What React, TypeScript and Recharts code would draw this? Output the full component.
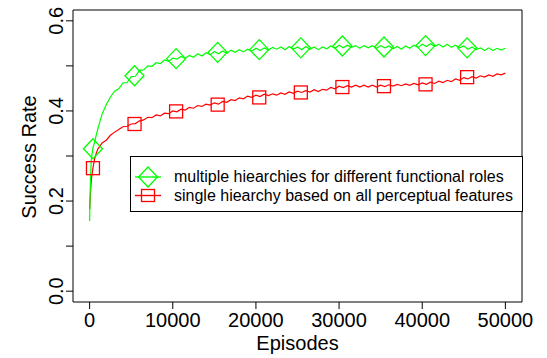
import { ComposedChart, Line, Scatter, XAxis, YAxis, ReferenceArea, Label } from 'recharts';

const episodes = [
  0, 100, 200, 400, 600, 800, 1000, 1200, 1500, 2000, 2500,
  3000, 3500, 4000, 4500, 5000, 5500, 6000, 6500, 7000, 7500,
  8000, 8500, 9000, 9500, 10000, 10500, 11000, 11500, 12000, 12500,
  13000, 13500, 14000, 14500, 15000, 15500, 16000, 16500, 17000, 17500,
  18000, 18500, 19000, 19500, 20000, 20500, 21000, 21500, 22000, 22500,
  23000, 23500, 24000, 24500, 25000, 25500, 26000, 26500, 27000, 27500,
  28000, 28500, 29000, 29500, 30000, 30500, 31000, 31500, 32000, 32500,
  33000, 33500, 34000, 34500, 35000, 35500, 36000, 36500, 37000, 37500,
  38000, 38500, 39000, 39500, 40000, 40500, 41000, 41500, 42000, 42500,
  43000, 43500, 44000, 44500, 45000, 45500, 46000, 46500, 47000, 47500,
  48000, 48500, 49000, 49500, 50000,
];

// multiple hierarchies (green)
const multiRate = [
  0.156, 0.248, 0.292, 0.318, 0.331, 0.347, 0.361, 0.374, 0.393, 0.414, 0.431,
  0.444, 0.449, 0.462, 0.463, 0.476, 0.477, 0.49, 0.491, 0.5, 0.499,
  0.507, 0.505, 0.513, 0.51, 0.517, 0.515, 0.521, 0.517, 0.523, 0.519,
  0.527, 0.522, 0.529, 0.525, 0.532, 0.527, 0.533, 0.528, 0.535, 0.53,
  0.536, 0.531, 0.537, 0.533, 0.539, 0.534, 0.54, 0.535, 0.541, 0.537,
  0.542, 0.536, 0.543, 0.537, 0.542, 0.536, 0.543, 0.537, 0.542, 0.536,
  0.542, 0.538, 0.544, 0.539, 0.546, 0.54, 0.546, 0.541, 0.545, 0.539,
  0.545, 0.54, 0.545, 0.539, 0.545, 0.54, 0.544, 0.538, 0.543, 0.537,
  0.544, 0.539, 0.546, 0.541, 0.548, 0.543, 0.549, 0.543, 0.548, 0.542,
  0.548, 0.541, 0.546, 0.54, 0.544, 0.537, 0.542, 0.536, 0.54, 0.534,
  0.54, 0.534, 0.539, 0.535, 0.539,
];

// single hierarchy (red)
const singleRate = [
  0.182, 0.218, 0.247, 0.273, 0.294, 0.306, 0.316, 0.321, 0.329, 0.335, 0.346,
  0.353, 0.359, 0.365, 0.366, 0.371, 0.372, 0.378, 0.38, 0.386, 0.385,
  0.391, 0.389, 0.395, 0.394, 0.4, 0.398, 0.404, 0.402, 0.408, 0.406,
  0.412, 0.41, 0.415, 0.413, 0.418, 0.415, 0.421, 0.419, 0.425, 0.423,
  0.429, 0.427, 0.433, 0.43, 0.435, 0.432, 0.437, 0.434, 0.438, 0.435,
  0.44, 0.437, 0.442, 0.439, 0.444, 0.441, 0.445, 0.442, 0.447, 0.443,
  0.448, 0.446, 0.452, 0.449, 0.455, 0.452, 0.456, 0.453, 0.457, 0.453,
  0.457, 0.453, 0.457, 0.453, 0.457, 0.454, 0.458, 0.455, 0.459, 0.456,
  0.46, 0.457, 0.461, 0.458, 0.462, 0.459, 0.464, 0.461, 0.466, 0.463,
  0.468, 0.465, 0.471, 0.468, 0.474, 0.471, 0.476, 0.473, 0.478, 0.475,
  0.48, 0.477, 0.482, 0.48, 0.484,
];

const markerEpisodes = [400, 5400, 10400, 15400, 20400, 25400, 30400, 35400, 40400, 45400];
const multiMarkers = [0.316, 0.478, 0.516, 0.53, 0.536, 0.54, 0.544, 0.542, 0.545, 0.54];
const singleMarkers = [0.273, 0.371, 0.399, 0.414, 0.43, 0.441, 0.453, 0.455, 0.459, 0.475];

const xTicks = [0, 10000, 20000, 30000, 40000, 50000];
const yTicks = [0, 0.1, 0.2, 0.3, 0.4, 0.5, 0.6];

const legendLabels = [
  'multiple hiearchies for different functional roles',
  'single hiearchy based on all perceptual features',
];

const GREEN = '#00ff00';
const RED = '#ff0000';
const FONT = '"Liberation Sans", Arial, Helvetica, sans-serif';

const rows = episodes.map((ep, i) => ({ ep, multi: multiRate[i], single: singleRate[i] }));
const multiPts = markerEpisodes.map((ep, i) => ({ ep, multi: multiMarkers[i] }));
const singlePts = markerEpisodes.map((ep, i) => ({ ep, single: singleMarkers[i] }));

const Diamond = (props: any) => {
  const { cx, cy } = props;
  return (
    <polygon
      points={`${cx},${cy - 10} ${cx + 9.5},${cy} ${cx},${cy + 10} ${cx - 9.5},${cy}`}
      fill="none"
      stroke={GREEN}
      strokeWidth={1.3}
    />
  );
};

const Square = (props: any) => {
  const { cx, cy } = props;
  return <rect x={cx - 6.5} y={cy - 6.5} width={13} height={13} fill="none" stroke={RED} strokeWidth={1.3} />;
};

const YTick = (props: any) => {
  const { x, y, payload } = props;
  const v = payload.value as number;
  if (Math.round(v * 10) % 2 !== 0) return null;
  const tx = x - 1;
  return (
    <text x={tx} y={y} transform={`rotate(-90, ${tx}, ${y})`} textAnchor="middle" fontSize={20} fontFamily={FONT} fill="#000">
      {v.toFixed(1)}
    </text>
  );
};

const YTitle = () => (
  <text x={36} y={157} transform="rotate(-90, 36, 157)" textAnchor="middle" fontSize={20} fontFamily={FONT} fill="#000">
    Success Rate
  </text>
);

const App = () => {
  return (
    <div style={{ position: 'absolute', left: 0, top: 0, width: 547, height: 358, background: '#fff', fontFamily: FONT }}>
      <ComposedChart width={547} height={358} data={rows} margin={{ top: 10, right: 25, bottom: 0, left: 0 }}>
        <XAxis
          dataKey="ep"
          type="number"
          domain={[-2000, 52000]}
          ticks={xTicks}
          allowDataOverflow
          axisLine={false}
          tickLine={{ stroke: '#000' }}
          tickSize={7}
          tickMargin={4}
          height={56}
          tick={{ fill: '#000', fontSize: 20, fontFamily: FONT }}
        >
          <Label value="Episodes" position="insideBottom" offset={8} fill="#000" fontSize={20} fontFamily={FONT} />
        </XAxis>
        <YAxis
          type="number"
          domain={[-0.024, 0.624]}
          ticks={yTicks}
          allowDataOverflow
          axisLine={false}
          tickLine={{ stroke: '#000' }}
          tickSize={7}
          width={73}
          tick={<YTick />}
        >
          <Label content={<YTitle />} />
        </YAxis>
        <ReferenceArea x1={-2000} x2={52000} y1={-0.024} y2={0.624} fill="none" stroke="#000" strokeWidth={1} ifOverflow="visible" />
        <Line dataKey="single" type="linear" stroke={RED} strokeWidth={1.2} dot={false} isAnimationActive={false} />
        <Line dataKey="multi" type="linear" stroke={GREEN} strokeWidth={1.2} dot={false} isAnimationActive={false} />
        <Scatter data={singlePts} dataKey="single" shape={<Square />} isAnimationActive={false} />
        <Scatter data={multiPts} dataKey="multi" shape={<Diamond />} isAnimationActive={false} />
      </ComposedChart>
      <div
        style={{
          position: 'absolute',
          left: 130,
          top: 156,
          width: 393,
          height: 56,
          boxSizing: 'border-box',
          border: '1px solid #000',
          background: '#fff',
        }}
      >
        <svg width={391} height={54} style={{ display: 'block' }}>
          <line x1={4} x2={30} y1={20} y2={20} stroke={GREEN} strokeWidth={1.4} />
          <polygon points="17,10 26.5,20 17,30 7.5,20" fill="none" stroke={GREEN} strokeWidth={1.3} />
          <line x1={4} x2={30} y1={38.5} y2={38.5} stroke={RED} strokeWidth={1.4} />
          <rect x={10.5} y={32.5} width={13} height={12} fill="none" stroke={RED} strokeWidth={1.3} />
          <text x={43} y={25} fontSize={16} fontFamily={FONT} fill="#000">{legendLabels[0]}</text>
          <text x={43} y={43.5} fontSize={16} fontFamily={FONT} fill="#000">{legendLabels[1]}</text>
        </svg>
      </div>
    </div>
  );
};

export default App;
